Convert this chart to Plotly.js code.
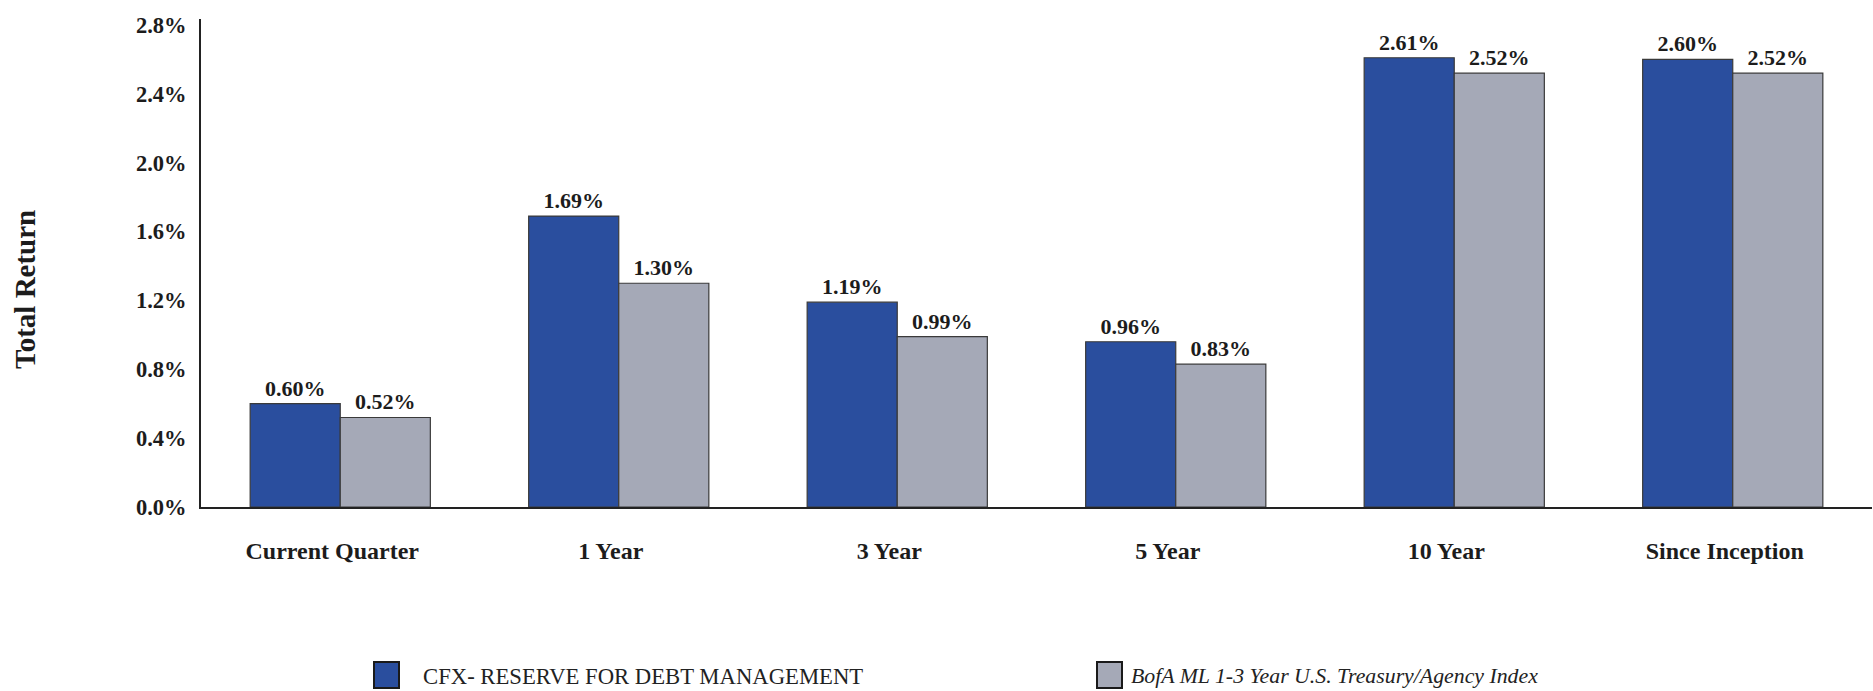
<!DOCTYPE html>
<html>
<head>
<meta charset="utf-8">
<script src="https://cdn.plot.ly/plotly-3.0.1.min.js"></script>
<style>
  html, body { margin: 0; padding: 0; background: #ffffff; }
  #chart { width: 1873px; height: 691px; }
</style>
</head>
<body>
<div id="chart"></div>
<script>
// ---- data ----
const categories = ["Current Quarter", "1 Year", "3 Year", "5 Year", "10 Year", "Since Inception"];
const seriesNames = ["CFX- RESERVE FOR DEBT MANAGEMENT", "BofA ML 1-3 Year U.S. Treasury/Agency Index"];
const cfxValues = [0.60, 1.69, 1.19, 0.96, 2.61, 2.60];
const bofaValues = [0.52, 1.30, 0.99, 0.83, 2.52, 2.52];
const yTickValues = [0.0, 0.4, 0.8, 1.2, 1.6, 2.0, 2.4, 2.8];
const yTickLabels = ["0.0%", "0.4%", "0.8%", "1.2%", "1.6%", "2.0%", "2.4%", "2.8%"];
const yTitle = "Total Return";

// ---- styling ----
const W = 1873, H = 691;
const M = { l: 201, r: 1, t: 19, b: 184 };
const plotW = W - M.l - M.r, plotH = H - M.t - M.b;
const px = x => (x - M.l) / plotW;          // pixel -> paper x
const py = y => (H - M.b - y) / plotH;      // pixel -> paper y

const serif = "Liberation Serif, Times New Roman, serif";
const blue = "#2a4e9e";
const gray = "#a5a9b7";
const edge = "#3a3a3a";
const ink = "#1c1c1c";

const traces = [
  {
    type: "bar", name: seriesNames[0], x: categories, y: cfxValues,
    marker: { color: blue, line: { color: edge, width: 1.2 } },
    texttemplate: "%{y:.2f}%", textposition: "outside", cliponaxis: false,
    textfont: { family: serif, size: 22, color: ink, weight: "bold" },
    hoverinfo: "skip", showlegend: false
  },
  {
    type: "bar", name: seriesNames[1], x: categories, y: bofaValues,
    marker: { color: gray, line: { color: edge, width: 1.2 } },
    texttemplate: "%{y:.2f}%", textposition: "outside", cliponaxis: false,
    textfont: { family: serif, size: 22, color: ink, weight: "bold" },
    hoverinfo: "skip", showlegend: false
  }
];

// custom legend (large squares like the reference)
const legendItems = [
  { name: seriesNames[0], color: blue, sq: [374, 399], tx: 421, size: 22.7, italic: false },
  { name: seriesNames[1], color: gray, sq: [1097, 1122], tx: 1129, size: 21.8, italic: true }
];
const sqTop = 662, sqBot = 688, legY = 676;

const shapes = legendItems.map(it => ({
  type: "rect", xref: "paper", yref: "paper",
  x0: px(it.sq[0]), x1: px(it.sq[1]), y0: py(sqBot), y1: py(sqTop),
  fillcolor: it.color, line: { color: "#1a1a1a", width: 2 }
}));

const annotations = legendItems.map(it => ({
  xref: "paper", yref: "paper", x: px(it.tx), y: py(legY),
  xanchor: "left", yanchor: "middle", showarrow: false,
  text: it.name,
  font: { family: serif, size: it.size, color: "#222", style: it.italic ? "italic" : "normal" }
}));

annotations.push({
  xref: "paper", yref: "paper", x: px(25), y: py(290),
  xanchor: "center", yanchor: "middle", showarrow: false, textangle: -90,
  text: yTitle,
  font: { family: serif, size: 29, color: ink, weight: "bold" }
});

const layout = {
  width: W, height: H,
  margin: M,
  paper_bgcolor: "#ffffff", plot_bgcolor: "#ffffff",
  barmode: "group", bargap: 0.353, bargroupgap: 0,
  showlegend: false,
  font: { family: serif, color: ink },
  xaxis: {
    type: "category", showgrid: false, zeroline: false,
    showline: true, linecolor: "#222", linewidth: 2,
    ticks: "", ticklabelstandoff: 21, ticklabelshift: -8,
    tickfont: { family: serif, size: 24, color: ink, weight: "bold" }
  },
  yaxis: {
    range: [0, 2.835], tickmode: "array", tickvals: yTickValues, ticktext: yTickLabels,
    showgrid: false, zeroline: false,
    showline: true, linecolor: "#222", linewidth: 2,
    ticks: "", ticklabelstandoff: 8,
    tickfont: { family: serif, size: 22.5, color: ink, weight: "bold" }
  },
  shapes: shapes,
  annotations: annotations
};

Plotly.newPlot("chart", traces, layout, { staticPlot: true, displayModeBar: false });
</script>
</body>
</html>
